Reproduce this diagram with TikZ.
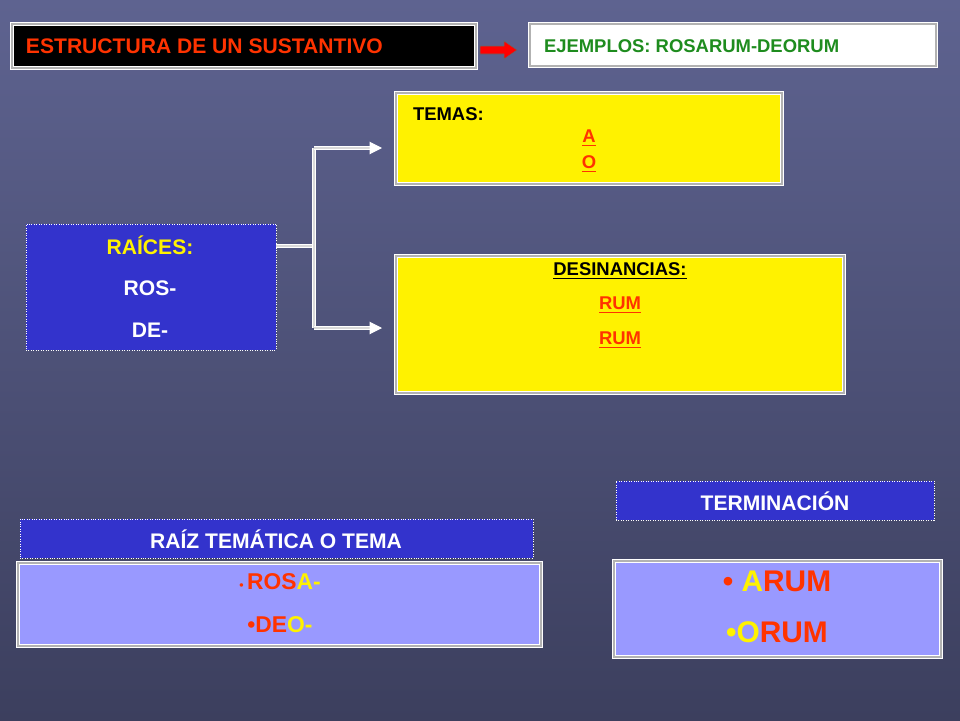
\documentclass[tikz,border=0pt]{standalone}
\usepackage{fontspec}
\setmainfont{Liberation Sans}
\usetikzlibrary{arrows.meta}
\definecolor{bgtop}{HTML}{5E6390}
\definecolor{bgbot}{HTML}{3C3F5E}
\definecolor{royal}{HTML}{3333CC}
\definecolor{lav}{HTML}{9999FF}
\definecolor{txtred}{HTML}{FF3300}
\definecolor{txtgreen}{HTML}{1E8C1E}
\begin{document}
\begin{tikzpicture}[x=0.02cm, y=-0.02cm,
  >=Stealth, %
  inner sep=0pt, outer sep=0pt,%
  box/.style={draw=white,double=gray!60,double distance=1pt,line width=0.8pt,anchor=north west},
  head/.style={draw=white,densely dotted,fill=royal,anchor=north west,font=\bfseries\fontsize{12}{14}\selectfont,text=white},
  link/.style={draw=white,double=gray!30,double distance=1.2pt,line width=0.6pt}]

\shade[top color=bgtop,bottom color=bgbot] (0,0) rectangle (960,720);

% title row
\node[box,fill=black,minimum width=464*0.02cm,minimum height=44*0.02cm] (titulo) at (12,24) {};
\node[anchor=west,text=txtred,font=\bfseries\fontsize{12}{14}\selectfont] at (26,46) {ESTRUCTURA DE UN SUSTANTIVO};
\node[box,fill=white,minimum width=406*0.02cm,minimum height=42*0.02cm] (ejemplos) at (530,24) {};
\node[anchor=west,text=txtgreen,font=\bfseries\fontsize{10.5}{12}\selectfont] at (544,46) {EJEMPLOS: ROSARUM-DEORUM};
\draw[draw=black!60,fill=red,line width=0.3pt] (480,46)--(504,46)--(504,41)--(517,50)--(504,59)--(504,54)--(480,54)--cycle;

% raices
\node[head,fill=royal,minimum width=250*0.02cm,minimum height=126*0.02cm] (raices) at (26,224) {};
\node[text=yellow,font=\bfseries\fontsize{12}{14}\selectfont] at (150,245) {RAÍCES:};
\node[text=white,font=\bfseries\fontsize{12}{14}\selectfont] at (150,288) {ROS-};
\node[text=white,font=\bfseries\fontsize{12}{14}\selectfont] at (150,330) {DE-};

% temas
\node[box,fill=yellow,minimum width=386*0.02cm,minimum height=91*0.02cm] (temas) at (396,93) {};
\node[anchor=west,font=\bfseries\fontsize{10.5}{12}\selectfont] at (413,114) {TEMAS:};
\node[text=txtred,font=\bfseries\fontsize{10.5}{12}\selectfont] at (589,138) {\underline{A}};
\node[text=txtred,font=\bfseries\fontsize{10.5}{12}\selectfont] at (589,164) {\underline{O}};

% desinancias
\node[box,fill=yellow,minimum width=448*0.02cm,minimum height=137*0.02cm] (desin) at (396,256) {};
\node[font=\bfseries\fontsize{10.5}{12}\selectfont] at (620,271) {\underline{DESINANCIAS:}};
\node[text=txtred,font=\bfseries\fontsize{10.5}{12}\selectfont] at (620,305) {\underline{RUM}};
\node[text=txtred,font=\bfseries\fontsize{10.5}{12}\selectfont] at (620,340) {\underline{RUM}};

% connectors
\coordinate (fork) at (314,246);
\draw[link] (276,246) -- (fork);
\draw[link] (314,148) -- (314,328);
\draw[link,-{Triangle[length=7pt,width=7pt,fill=white]}] (314,148) -- (382,148);
\draw[link,-{Triangle[length=7pt,width=7pt,fill=white]}] (314,328) -- (382,328);

% bottom
\node[head,minimum width=318*0.02cm,minimum height=39*0.02cm] (termin) at (616,481) {};
\node[text=white,font=\bfseries\fontsize{12}{14}\selectfont] at (775,501) {TERMINACIÓN};
\node[head,minimum width=513*0.02cm,minimum height=39*0.02cm] (raiztem) at (20,519) {};
\node[text=white,font=\bfseries\fontsize{12}{14}\selectfont] at (276,539) {RAÍZ TEMÁTICA O TEMA};

\node[box,fill=lav,minimum width=523*0.02cm,minimum height=83*0.02cm] (tema) at (18,563) {};
\node[font=\bfseries\fontsize{13}{16}\selectfont] at (280,582) {{\color{txtred}\fontsize{7}{8}\selectfont•\ \fontsize{13}{16}\selectfont ROS}\textcolor{yellow}{A-}};
\node[font=\bfseries\fontsize{13}{16}\selectfont] at (280,625) {\textcolor{txtred}{•DE}\textcolor{yellow}{O-}};

\node[box,fill=lav,minimum width=327*0.02cm,minimum height=96*0.02cm] (term) at (614,561) {};
\node[font=\bfseries\fontsize{17}{20}\selectfont] at (777,581) {\textcolor{txtred}{•\ }\textcolor{yellow}{A}\textcolor{txtred}{RUM}};
\node[font=\bfseries\fontsize{17}{20}\selectfont] at (777,632) {\textcolor{yellow}{•O}\textcolor{txtred}{RUM}};
\end{tikzpicture}
\end{document}
